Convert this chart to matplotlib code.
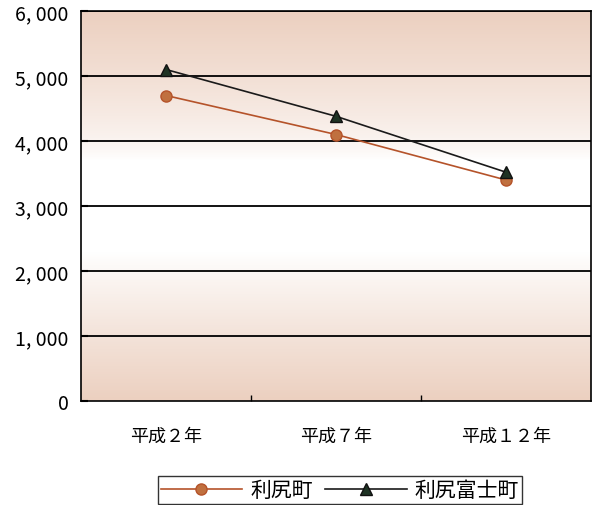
import matplotlib.pyplot as plt
import numpy as np

plt.rcParams['font.family'] = ['Noto Sans CJK JP', 'DejaVu Sans']

# data
years = ['平成２年', '平成７年', '平成１２年']
rishiri = [4700, 4100, 3400]
rishirifuji = [5100, 4380, 3520]
yticks = [0, 1000, 2000, 3000, 4000, 5000, 6000]
ylabels = ['0', '1, 000', '2, 000', '3, 000', '4, 000', '5, 000', '6, 000']

fig = plt.figure(figsize=(5.97, 5.06), dpi=100)
ax = fig.add_axes([81 / 597, 1 - 402 / 506, 510 / 597, 390 / 506])

# scanned paper tint: peach at top and bottom, white in middle
t = np.linspace(0, 1, 200)
top = np.clip((t - 0.62) / 0.38, 0, 1) ** 0.7
bot = np.clip((0.38 - t) / 0.38, 0, 1) ** 0.9
w = np.maximum(top, bot)[:, None]
peach = np.array([236, 208, 192]) / 255
img = 1 - w[..., None] * (1 - peach)
img = np.repeat(img, 2, axis=1)
ax.imshow(img, extent=[0, 1, 0, 1], transform=ax.transAxes, origin='lower',
          aspect='auto', zorder=0)

x = np.arange(len(years))
ax.plot(x, rishiri, color='#b5532a', lw=1.2, marker='o', ms=8,
        mfc='#c0703f', mec='#b5532a', label='利尻町', zorder=3)
ax.plot(x, rishirifuji, color='#1a1a1a', lw=1.2, marker='^', ms=9,
        mfc='#1e3324', mec='#111111', label='利尻富士町', zorder=3)

ax.set_xlim(-0.5, 2.5)
ax.set_ylim(0, 6000)
ax.set_yticks(yticks)
ax.set_yticklabels(ylabels, fontsize=14)
for v in yticks[1:]:
    ax.axhline(v, color='black', lw=1.3, zorder=2)

ax.set_xticks([0.5, 1.5])
ax.set_xticklabels([])
ax.tick_params(axis='x', direction='in', length=4, width=1)
ax.tick_params(axis='y', direction='in', length=5, width=1.5, pad=9)
for i, lab in enumerate(years):
    ax.text(i, -0.09, lab, transform=ax.get_xaxis_transform(), ha='center',
            va='center', fontsize=13)
for s in ax.spines.values():
    s.set_linewidth(1.2)

leg = fig.legend(loc='lower center', bbox_to_anchor=(340 / 597, 0.002), ncol=2,
                 fontsize=15, frameon=True, fancybox=False, edgecolor='black',
                 handlelength=3.9, columnspacing=0.6, handletextpad=0.4,
                 borderpad=0.15, borderaxespad=0)
leg.get_frame().set_linewidth(1.0)

fig.savefig('out.png', dpi=100)
